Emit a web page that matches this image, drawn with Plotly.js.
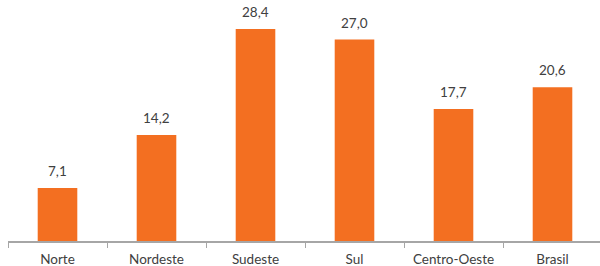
<!DOCTYPE html>
<html>
<head>
<meta charset="utf-8">
<script src="https://cdn.plot.ly/plotly-3.0.1.min.js"></script>
<style>
html,body{margin:0;padding:0;overflow:hidden;background:#fff;}
#chart{width:602px;height:266px;}
</style>
</head>
<body>
<div id="chart"></div>
<script>
const categories = ["Norte", "Nordeste", "Sudeste", "Sul", "Centro-Oeste", "Brasil"];
const values = [7.1, 14.2, 28.4, 27.0, 17.7, 20.6];

const barColor = "#F36F21";
const textColor = "#404040";
const fontFamily = "Lato, 'Open Sans', sans-serif";

const trace = {
  type: "bar",
  x: categories,
  y: values,
  marker: { color: barColor },
  hoverinfo: "none"
};

const annotations = categories.map((c, i) => ({
  x: c,
  y: values[i],
  text: values[i].toFixed(1).replace(".", ","),
  showarrow: false,
  yanchor: "bottom",
  yshift: 7,
  font: { family: fontFamily, size: 13.5, color: textColor }
}));

const layout = {
  width: 602,
  height: 266,
  margin: { l: 8, r: 0, t: 0, b: 25 },
  paper_bgcolor: "#ffffff",
  plot_bgcolor: "#ffffff",
  bargap: 0.6,
  showlegend: false,
  separators: ",.",
  font: { family: fontFamily, size: 13.5, color: textColor },
  xaxis: {
    type: "category",
    showline: true,
    linecolor: "#A6A6A6",
    linewidth: 1.5,
    ticks: "outside",
    tickson: "boundaries",
    ticklen: 5,
    tickcolor: "#A6A6A6",
    tickwidth: 1,
    ticklabelstandoff: 5,
    showgrid: false,
    zeroline: false,
    tickfont: { family: fontFamily, size: 13.5, color: textColor },
    fixedrange: true
  },
  yaxis: {
    range: [0, 32.3],
    visible: false,
    showgrid: false,
    zeroline: false,
    fixedrange: true
  },
  annotations: annotations
};

Plotly.newPlot("chart", [trace], layout, { displayModeBar: false, staticPlot: true });
</script>
</body>
</html>
